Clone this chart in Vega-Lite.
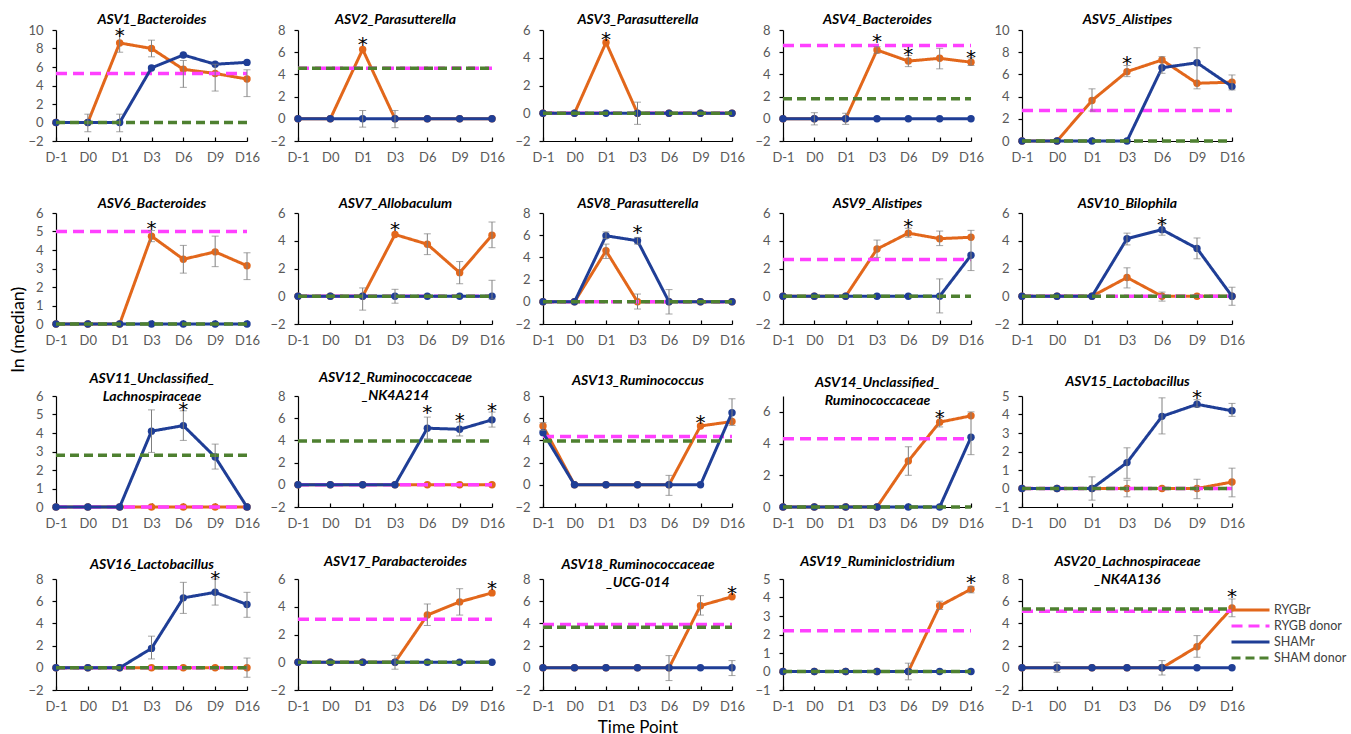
{"$schema":"https://vega.github.io/schema/vega-lite/v6.json","padding":{"left":10,"top":12,"right":0,"bottom":0},
"data":{"values":[
{"a":"ASV1","k":"RYGBr","t":"D-1","v":0},{"a":"ASV1","k":"RYGBr","t":"D0","v":0},{"a":"ASV1","k":"RYGBr","t":"D1","v":8.6},{"a":"ASV1","k":"RYGBr","t":"D3","v":8.0},{"a":"ASV1","k":"RYGBr","t":"D6","v":5.75},{"a":"ASV1","k":"RYGBr","t":"D9","v":5.3},{"a":"ASV1","k":"RYGBr","t":"D16","v":4.7},
{"a":"ASV1","k":"SHAMr","t":"D-1","v":0},{"a":"ASV1","k":"SHAMr","t":"D0","v":0},{"a":"ASV1","k":"SHAMr","t":"D1","v":0},{"a":"ASV1","k":"SHAMr","t":"D3","v":5.9},{"a":"ASV1","k":"SHAMr","t":"D6","v":7.3},{"a":"ASV1","k":"SHAMr","t":"D9","v":6.3},{"a":"ASV1","k":"SHAMr","t":"D16","v":6.5},
{"a":"ASV1","k":"RYGB donor","t":"D-1","v":5.3},{"a":"ASV1","k":"RYGB donor","t":"D16","v":5.3},{"a":"ASV1","k":"SHAM donor","t":"D-1","v":0},{"a":"ASV1","k":"SHAM donor","t":"D16","v":0},
{"a":"ASV1","k":"E","t":"D0","v":-1.0,"v2":0.9},{"a":"ASV1","k":"E","t":"D1","v":-1.0,"v2":0.9},{"a":"ASV1","k":"E","t":"D1","v":7.6,"v2":9.7},{"a":"ASV1","k":"E","t":"D3","v":7.1,"v2":8.9},{"a":"ASV1","k":"E","t":"D6","v":3.8,"v2":6.7},{"a":"ASV1","k":"E","t":"D9","v":3.4,"v2":6.3},{"a":"ASV1","k":"E","t":"D16","v":2.8,"v2":5.7},
{"a":"ASV1","k":"X","t":"D1","v":10.0},
{"a":"ASV2","k":"RYGBr","t":"D-1","v":0},{"a":"ASV2","k":"RYGBr","t":"D0","v":0},{"a":"ASV2","k":"RYGBr","t":"D1","v":6.25},{"a":"ASV2","k":"RYGBr","t":"D3","v":0},{"a":"ASV2","k":"RYGBr","t":"D6","v":0},{"a":"ASV2","k":"RYGBr","t":"D9","v":0},{"a":"ASV2","k":"RYGBr","t":"D16","v":0},
{"a":"ASV2","k":"SHAMr","t":"D-1","v":0},{"a":"ASV2","k":"SHAMr","t":"D0","v":0},{"a":"ASV2","k":"SHAMr","t":"D1","v":0},{"a":"ASV2","k":"SHAMr","t":"D3","v":0},{"a":"ASV2","k":"SHAMr","t":"D6","v":0},{"a":"ASV2","k":"SHAMr","t":"D9","v":0},{"a":"ASV2","k":"SHAMr","t":"D16","v":0},
{"a":"ASV2","k":"RYGB donor","t":"D-1","v":4.55},{"a":"ASV2","k":"RYGB donor","t":"D16","v":4.55},{"a":"ASV2","k":"SHAM donor","t":"D-1","v":4.55},{"a":"ASV2","k":"SHAM donor","t":"D16","v":4.55},
{"a":"ASV2","k":"E","t":"D1","v":-0.75,"v2":0.75},{"a":"ASV2","k":"E","t":"D3","v":-0.8,"v2":0.75},
{"a":"ASV2","k":"X","t":"D1","v":7.2},
{"a":"ASV3","k":"RYGBr","t":"D-1","v":0},{"a":"ASV3","k":"RYGBr","t":"D0","v":0},{"a":"ASV3","k":"RYGBr","t":"D1","v":5.1},{"a":"ASV3","k":"RYGBr","t":"D3","v":0},{"a":"ASV3","k":"RYGBr","t":"D6","v":0},{"a":"ASV3","k":"RYGBr","t":"D9","v":0},{"a":"ASV3","k":"RYGBr","t":"D16","v":0},
{"a":"ASV3","k":"SHAMr","t":"D-1","v":0},{"a":"ASV3","k":"SHAMr","t":"D0","v":0},{"a":"ASV3","k":"SHAMr","t":"D1","v":0},{"a":"ASV3","k":"SHAMr","t":"D3","v":0},{"a":"ASV3","k":"SHAMr","t":"D6","v":0},{"a":"ASV3","k":"SHAMr","t":"D9","v":0},{"a":"ASV3","k":"SHAMr","t":"D16","v":0},
{"a":"ASV3","k":"RYGB donor","t":"D-1","v":0},{"a":"ASV3","k":"RYGB donor","t":"D16","v":0},{"a":"ASV3","k":"SHAM donor","t":"D-1","v":0},{"a":"ASV3","k":"SHAM donor","t":"D16","v":0},
{"a":"ASV3","k":"E","t":"D3","v":-0.8,"v2":0.8},
{"a":"ASV3","k":"X","t":"D1","v":5.7},
{"a":"ASV4","k":"RYGBr","t":"D-1","v":0},{"a":"ASV4","k":"RYGBr","t":"D0","v":0},{"a":"ASV4","k":"RYGBr","t":"D1","v":0},{"a":"ASV4","k":"RYGBr","t":"D3","v":6.2},{"a":"ASV4","k":"RYGBr","t":"D6","v":5.2},{"a":"ASV4","k":"RYGBr","t":"D9","v":5.45},{"a":"ASV4","k":"RYGBr","t":"D16","v":5.1},
{"a":"ASV4","k":"SHAMr","t":"D-1","v":0},{"a":"ASV4","k":"SHAMr","t":"D0","v":0},{"a":"ASV4","k":"SHAMr","t":"D1","v":0},{"a":"ASV4","k":"SHAMr","t":"D3","v":0},{"a":"ASV4","k":"SHAMr","t":"D6","v":0},{"a":"ASV4","k":"SHAMr","t":"D9","v":0},{"a":"ASV4","k":"SHAMr","t":"D16","v":0},
{"a":"ASV4","k":"RYGB donor","t":"D-1","v":6.6},{"a":"ASV4","k":"RYGB donor","t":"D16","v":6.6},{"a":"ASV4","k":"SHAM donor","t":"D-1","v":1.8},{"a":"ASV4","k":"SHAM donor","t":"D16","v":1.8},
{"a":"ASV4","k":"E","t":"D0","v":-0.55,"v2":0.55},{"a":"ASV4","k":"E","t":"D1","v":-0.5,"v2":0.5},{"a":"ASV4","k":"E","t":"D3","v":5.9,"v2":6.5},{"a":"ASV4","k":"E","t":"D6","v":4.7,"v2":5.7},{"a":"ASV4","k":"E","t":"D9","v":4.5,"v2":6.35},{"a":"ASV4","k":"E","t":"D16","v":4.8,"v2":5.5},
{"a":"ASV4","k":"X","t":"D3","v":7.5},{"a":"ASV4","k":"X","t":"D6","v":6.3},{"a":"ASV4","k":"X","t":"D16","v":6.0},
{"a":"ASV5","k":"RYGBr","t":"D-1","v":0},{"a":"ASV5","k":"RYGBr","t":"D0","v":0},{"a":"ASV5","k":"RYGBr","t":"D1","v":3.65},{"a":"ASV5","k":"RYGBr","t":"D3","v":6.25},{"a":"ASV5","k":"RYGBr","t":"D6","v":7.3},{"a":"ASV5","k":"RYGBr","t":"D9","v":5.2},{"a":"ASV5","k":"RYGBr","t":"D16","v":5.3},
{"a":"ASV5","k":"SHAMr","t":"D-1","v":0},{"a":"ASV5","k":"SHAMr","t":"D0","v":0},{"a":"ASV5","k":"SHAMr","t":"D1","v":0},{"a":"ASV5","k":"SHAMr","t":"D3","v":0},{"a":"ASV5","k":"SHAMr","t":"D6","v":6.6},{"a":"ASV5","k":"SHAMr","t":"D9","v":7.05},{"a":"ASV5","k":"SHAMr","t":"D16","v":4.9},
{"a":"ASV5","k":"RYGB donor","t":"D-1","v":2.75},{"a":"ASV5","k":"RYGB donor","t":"D16","v":2.75},{"a":"ASV5","k":"SHAM donor","t":"D-1","v":0},{"a":"ASV5","k":"SHAM donor","t":"D16","v":0},
{"a":"ASV5","k":"E","t":"D1","v":2.7,"v2":4.7},{"a":"ASV5","k":"E","t":"D3","v":5.8,"v2":6.8},{"a":"ASV5","k":"E","t":"D6","v":6.1,"v2":7.6},{"a":"ASV5","k":"E","t":"D9","v":4.7,"v2":8.4},{"a":"ASV5","k":"E","t":"D16","v":4.6,"v2":5.95},
{"a":"ASV5","k":"X","t":"D3","v":7.5},
{"a":"ASV6","k":"RYGBr","t":"D-1","v":0},{"a":"ASV6","k":"RYGBr","t":"D0","v":0},{"a":"ASV6","k":"RYGBr","t":"D1","v":0},{"a":"ASV6","k":"RYGBr","t":"D3","v":4.75},{"a":"ASV6","k":"RYGBr","t":"D6","v":3.5},{"a":"ASV6","k":"RYGBr","t":"D9","v":3.9},{"a":"ASV6","k":"RYGBr","t":"D16","v":3.15},
{"a":"ASV6","k":"SHAMr","t":"D-1","v":0},{"a":"ASV6","k":"SHAMr","t":"D0","v":0},{"a":"ASV6","k":"SHAMr","t":"D1","v":0},{"a":"ASV6","k":"SHAMr","t":"D3","v":0},{"a":"ASV6","k":"SHAMr","t":"D6","v":0},{"a":"ASV6","k":"SHAMr","t":"D9","v":0},{"a":"ASV6","k":"SHAMr","t":"D16","v":0},
{"a":"ASV6","k":"RYGB donor","t":"D-1","v":5.0},{"a":"ASV6","k":"RYGB donor","t":"D16","v":5.0},{"a":"ASV6","k":"SHAM donor","t":"D-1","v":0},{"a":"ASV6","k":"SHAM donor","t":"D16","v":0},
{"a":"ASV6","k":"E","t":"D3","v":4.45,"v2":5.05},{"a":"ASV6","k":"E","t":"D6","v":2.75,"v2":4.25},{"a":"ASV6","k":"E","t":"D9","v":3.1,"v2":4.75},{"a":"ASV6","k":"E","t":"D16","v":2.4,"v2":3.85},
{"a":"ASV6","k":"X","t":"D3","v":5.45},
{"a":"ASV7","k":"RYGBr","t":"D-1","v":0},{"a":"ASV7","k":"RYGBr","t":"D0","v":0},{"a":"ASV7","k":"RYGBr","t":"D1","v":0},{"a":"ASV7","k":"RYGBr","t":"D3","v":4.45},{"a":"ASV7","k":"RYGBr","t":"D6","v":3.75},{"a":"ASV7","k":"RYGBr","t":"D9","v":1.7},{"a":"ASV7","k":"RYGBr","t":"D16","v":4.4},
{"a":"ASV7","k":"SHAMr","t":"D-1","v":0},{"a":"ASV7","k":"SHAMr","t":"D0","v":0},{"a":"ASV7","k":"SHAMr","t":"D1","v":0},{"a":"ASV7","k":"SHAMr","t":"D3","v":0},{"a":"ASV7","k":"SHAMr","t":"D6","v":0},{"a":"ASV7","k":"SHAMr","t":"D9","v":0},{"a":"ASV7","k":"SHAMr","t":"D16","v":0},
{"a":"ASV7","k":"RYGB donor","t":"D-1","v":0},{"a":"ASV7","k":"RYGB donor","t":"D16","v":0},{"a":"ASV7","k":"SHAM donor","t":"D-1","v":0},{"a":"ASV7","k":"SHAM donor","t":"D16","v":0},
{"a":"ASV7","k":"E","t":"D1","v":-1.0,"v2":0.6},{"a":"ASV7","k":"E","t":"D3","v":-0.5,"v2":0.5},{"a":"ASV7","k":"E","t":"D6","v":3.0,"v2":4.5},{"a":"ASV7","k":"E","t":"D9","v":0.9,"v2":2.5},{"a":"ASV7","k":"E","t":"D16","v":3.5,"v2":5.35},{"a":"ASV7","k":"E","t":"D16","v":-0.2,"v2":1.15},
{"a":"ASV7","k":"X","t":"D3","v":5.2},
{"a":"ASV8","k":"RYGBr","t":"D-1","v":0},{"a":"ASV8","k":"RYGBr","t":"D0","v":0},{"a":"ASV8","k":"RYGBr","t":"D1","v":4.6},{"a":"ASV8","k":"RYGBr","t":"D3","v":0},{"a":"ASV8","k":"RYGBr","t":"D6","v":0},{"a":"ASV8","k":"RYGBr","t":"D9","v":0},{"a":"ASV8","k":"RYGBr","t":"D16","v":0},
{"a":"ASV8","k":"SHAMr","t":"D-1","v":0},{"a":"ASV8","k":"SHAMr","t":"D0","v":0},{"a":"ASV8","k":"SHAMr","t":"D1","v":5.95},{"a":"ASV8","k":"SHAMr","t":"D3","v":5.5},{"a":"ASV8","k":"SHAMr","t":"D6","v":0},{"a":"ASV8","k":"SHAMr","t":"D9","v":0},{"a":"ASV8","k":"SHAMr","t":"D16","v":0},
{"a":"ASV8","k":"RYGB donor","t":"D-1","v":0},{"a":"ASV8","k":"RYGB donor","t":"D16","v":0},{"a":"ASV8","k":"SHAM donor","t":"D-1","v":0},{"a":"ASV8","k":"SHAM donor","t":"D16","v":0},
{"a":"ASV8","k":"E","t":"D1","v":5.7,"v2":6.3},{"a":"ASV8","k":"E","t":"D1","v":3.9,"v2":5.2},{"a":"ASV8","k":"E","t":"D3","v":5.2,"v2":5.8},{"a":"ASV8","k":"E","t":"D3","v":-0.65,"v2":0.7},{"a":"ASV8","k":"E","t":"D6","v":-1.1,"v2":1.1},
{"a":"ASV8","k":"X","t":"D3","v":6.75},
{"a":"ASV9","k":"RYGBr","t":"D-1","v":0},{"a":"ASV9","k":"RYGBr","t":"D0","v":0},{"a":"ASV9","k":"RYGBr","t":"D1","v":0},{"a":"ASV9","k":"RYGBr","t":"D3","v":3.4},{"a":"ASV9","k":"RYGBr","t":"D6","v":4.55},{"a":"ASV9","k":"RYGBr","t":"D9","v":4.15},{"a":"ASV9","k":"RYGBr","t":"D16","v":4.25},
{"a":"ASV9","k":"SHAMr","t":"D-1","v":0},{"a":"ASV9","k":"SHAMr","t":"D0","v":0},{"a":"ASV9","k":"SHAMr","t":"D1","v":0},{"a":"ASV9","k":"SHAMr","t":"D3","v":0},{"a":"ASV9","k":"SHAMr","t":"D6","v":0},{"a":"ASV9","k":"SHAMr","t":"D9","v":0},{"a":"ASV9","k":"SHAMr","t":"D16","v":2.95},
{"a":"ASV9","k":"RYGB donor","t":"D-1","v":2.65},{"a":"ASV9","k":"RYGB donor","t":"D16","v":2.65},{"a":"ASV9","k":"SHAM donor","t":"D-1","v":0},{"a":"ASV9","k":"SHAM donor","t":"D16","v":0},
{"a":"ASV9","k":"E","t":"D3","v":2.8,"v2":4.05},{"a":"ASV9","k":"E","t":"D6","v":4.25,"v2":4.9},{"a":"ASV9","k":"E","t":"D9","v":3.65,"v2":4.7},{"a":"ASV9","k":"E","t":"D9","v":-1.2,"v2":1.25},{"a":"ASV9","k":"E","t":"D16","v":1.85,"v2":4.75},
{"a":"ASV9","k":"X","t":"D6","v":5.4},
{"a":"ASV10","k":"RYGBr","t":"D-1","v":0},{"a":"ASV10","k":"RYGBr","t":"D0","v":0},{"a":"ASV10","k":"RYGBr","t":"D1","v":0},{"a":"ASV10","k":"RYGBr","t":"D3","v":1.35},{"a":"ASV10","k":"RYGBr","t":"D6","v":0},{"a":"ASV10","k":"RYGBr","t":"D9","v":0},{"a":"ASV10","k":"RYGBr","t":"D16","v":0},
{"a":"ASV10","k":"SHAMr","t":"D-1","v":0},{"a":"ASV10","k":"SHAMr","t":"D0","v":0},{"a":"ASV10","k":"SHAMr","t":"D1","v":0},{"a":"ASV10","k":"SHAMr","t":"D3","v":4.15},{"a":"ASV10","k":"SHAMr","t":"D6","v":4.8},{"a":"ASV10","k":"SHAMr","t":"D9","v":3.45},{"a":"ASV10","k":"SHAMr","t":"D16","v":0},
{"a":"ASV10","k":"RYGB donor","t":"D-1","v":0},{"a":"ASV10","k":"RYGB donor","t":"D16","v":0},{"a":"ASV10","k":"SHAM donor","t":"D-1","v":0},{"a":"ASV10","k":"SHAM donor","t":"D16","v":0},
{"a":"ASV10","k":"E","t":"D3","v":3.7,"v2":4.55},{"a":"ASV10","k":"E","t":"D3","v":0.6,"v2":2.05},{"a":"ASV10","k":"E","t":"D6","v":4.4,"v2":5.2},{"a":"ASV10","k":"E","t":"D6","v":-0.35,"v2":0.3},{"a":"ASV10","k":"E","t":"D9","v":2.7,"v2":4.2},{"a":"ASV10","k":"E","t":"D16","v":-0.65,"v2":0.65},
{"a":"ASV10","k":"X","t":"D6","v":5.6},
{"a":"ASV11","k":"RYGBr","t":"D-1","v":0},{"a":"ASV11","k":"RYGBr","t":"D0","v":0},{"a":"ASV11","k":"RYGBr","t":"D1","v":0},{"a":"ASV11","k":"RYGBr","t":"D3","v":0},{"a":"ASV11","k":"RYGBr","t":"D6","v":0},{"a":"ASV11","k":"RYGBr","t":"D9","v":0},{"a":"ASV11","k":"RYGBr","t":"D16","v":0},
{"a":"ASV11","k":"SHAMr","t":"D-1","v":0},{"a":"ASV11","k":"SHAMr","t":"D0","v":0},{"a":"ASV11","k":"SHAMr","t":"D1","v":0},{"a":"ASV11","k":"SHAMr","t":"D3","v":4.1},{"a":"ASV11","k":"SHAMr","t":"D6","v":4.4},{"a":"ASV11","k":"SHAMr","t":"D9","v":2.7},{"a":"ASV11","k":"SHAMr","t":"D16","v":0},
{"a":"ASV11","k":"RYGB donor","t":"D-1","v":0},{"a":"ASV11","k":"RYGB donor","t":"D16","v":0},{"a":"ASV11","k":"SHAM donor","t":"D-1","v":2.8},{"a":"ASV11","k":"SHAM donor","t":"D16","v":2.8},
{"a":"ASV11","k":"E","t":"D3","v":2.95,"v2":5.25},{"a":"ASV11","k":"E","t":"D6","v":3.6,"v2":5.2},{"a":"ASV11","k":"E","t":"D9","v":2.05,"v2":3.4},
{"a":"ASV11","k":"X","t":"D6","v":5.55},
{"a":"ASV12","k":"RYGBr","t":"D-1","v":0},{"a":"ASV12","k":"RYGBr","t":"D0","v":0},{"a":"ASV12","k":"RYGBr","t":"D1","v":0},{"a":"ASV12","k":"RYGBr","t":"D3","v":0},{"a":"ASV12","k":"RYGBr","t":"D6","v":0},{"a":"ASV12","k":"RYGBr","t":"D9","v":0},{"a":"ASV12","k":"RYGBr","t":"D16","v":0},
{"a":"ASV12","k":"SHAMr","t":"D-1","v":0},{"a":"ASV12","k":"SHAMr","t":"D0","v":0},{"a":"ASV12","k":"SHAMr","t":"D1","v":0},{"a":"ASV12","k":"SHAMr","t":"D3","v":0},{"a":"ASV12","k":"SHAMr","t":"D6","v":5.1},{"a":"ASV12","k":"SHAMr","t":"D9","v":5.0},{"a":"ASV12","k":"SHAMr","t":"D16","v":5.85},
{"a":"ASV12","k":"RYGB donor","t":"D-1","v":0},{"a":"ASV12","k":"RYGB donor","t":"D16","v":0},{"a":"ASV12","k":"SHAM donor","t":"D-1","v":3.95},{"a":"ASV12","k":"SHAM donor","t":"D16","v":3.95},
{"a":"ASV12","k":"E","t":"D6","v":4.15,"v2":6.1},{"a":"ASV12","k":"E","t":"D9","v":4.4,"v2":5.65},{"a":"ASV12","k":"E","t":"D16","v":5.2,"v2":6.55},
{"a":"ASV12","k":"X","t":"D6","v":7.05},{"a":"ASV12","k":"X","t":"D9","v":6.25},{"a":"ASV12","k":"X","t":"D16","v":7.15},
{"a":"ASV13","k":"RYGBr","t":"D-1","v":5.3},{"a":"ASV13","k":"RYGBr","t":"D0","v":0},{"a":"ASV13","k":"RYGBr","t":"D1","v":0},{"a":"ASV13","k":"RYGBr","t":"D3","v":0},{"a":"ASV13","k":"RYGBr","t":"D6","v":0},{"a":"ASV13","k":"RYGBr","t":"D9","v":5.3},{"a":"ASV13","k":"RYGBr","t":"D16","v":5.7},
{"a":"ASV13","k":"SHAMr","t":"D-1","v":4.7},{"a":"ASV13","k":"SHAMr","t":"D0","v":0},{"a":"ASV13","k":"SHAMr","t":"D1","v":0},{"a":"ASV13","k":"SHAMr","t":"D3","v":0},{"a":"ASV13","k":"SHAMr","t":"D6","v":0},{"a":"ASV13","k":"SHAMr","t":"D9","v":0},{"a":"ASV13","k":"SHAMr","t":"D16","v":6.5},
{"a":"ASV13","k":"RYGB donor","t":"D-1","v":4.35},{"a":"ASV13","k":"RYGB donor","t":"D16","v":4.35},{"a":"ASV13","k":"SHAM donor","t":"D-1","v":3.95},{"a":"ASV13","k":"SHAM donor","t":"D16","v":3.95},
{"a":"ASV13","k":"E","t":"D-1","v":4.9,"v2":5.6},{"a":"ASV13","k":"E","t":"D6","v":-0.95,"v2":0.85},{"a":"ASV13","k":"E","t":"D16","v":5.35,"v2":7.75},
{"a":"ASV13","k":"X","t":"D9","v":6.15},
{"a":"ASV14","k":"RYGBr","t":"D-1","v":0},{"a":"ASV14","k":"RYGBr","t":"D0","v":0},{"a":"ASV14","k":"RYGBr","t":"D1","v":0},{"a":"ASV14","k":"RYGBr","t":"D3","v":0},{"a":"ASV14","k":"RYGBr","t":"D6","v":2.9},{"a":"ASV14","k":"RYGBr","t":"D9","v":5.35},{"a":"ASV14","k":"RYGBr","t":"D16","v":5.75},
{"a":"ASV14","k":"SHAMr","t":"D-1","v":0},{"a":"ASV14","k":"SHAMr","t":"D0","v":0},{"a":"ASV14","k":"SHAMr","t":"D1","v":0},{"a":"ASV14","k":"SHAMr","t":"D3","v":0},{"a":"ASV14","k":"SHAMr","t":"D6","v":0},{"a":"ASV14","k":"SHAMr","t":"D9","v":0},{"a":"ASV14","k":"SHAMr","t":"D16","v":4.4},
{"a":"ASV14","k":"RYGB donor","t":"D-1","v":4.3},{"a":"ASV14","k":"RYGB donor","t":"D16","v":4.3},{"a":"ASV14","k":"SHAM donor","t":"D-1","v":0},{"a":"ASV14","k":"SHAM donor","t":"D16","v":0},
{"a":"ASV14","k":"E","t":"D6","v":2.0,"v2":3.8},{"a":"ASV14","k":"E","t":"D9","v":5.05,"v2":5.65},{"a":"ASV14","k":"E","t":"D16","v":3.3,"v2":6.0},
{"a":"ASV14","k":"X","t":"D9","v":6.0},
{"a":"ASV15","k":"RYGBr","t":"D-1","v":0},{"a":"ASV15","k":"RYGBr","t":"D0","v":0},{"a":"ASV15","k":"RYGBr","t":"D1","v":0},{"a":"ASV15","k":"RYGBr","t":"D3","v":0},{"a":"ASV15","k":"RYGBr","t":"D6","v":0},{"a":"ASV15","k":"RYGBr","t":"D9","v":0},{"a":"ASV15","k":"RYGBr","t":"D16","v":0.35},
{"a":"ASV15","k":"SHAMr","t":"D-1","v":0},{"a":"ASV15","k":"SHAMr","t":"D0","v":0},{"a":"ASV15","k":"SHAMr","t":"D1","v":0},{"a":"ASV15","k":"SHAMr","t":"D3","v":1.4},{"a":"ASV15","k":"SHAMr","t":"D6","v":3.9},{"a":"ASV15","k":"SHAMr","t":"D9","v":4.55},{"a":"ASV15","k":"SHAMr","t":"D16","v":4.2},
{"a":"ASV15","k":"RYGB donor","t":"D-1","v":0},{"a":"ASV15","k":"RYGB donor","t":"D16","v":0},{"a":"ASV15","k":"SHAM donor","t":"D-1","v":0},{"a":"ASV15","k":"SHAM donor","t":"D16","v":0},
{"a":"ASV15","k":"E","t":"D1","v":-0.63,"v2":0.63},{"a":"ASV15","k":"E","t":"D3","v":0.55,"v2":2.2},{"a":"ASV15","k":"E","t":"D3","v":-0.45,"v2":0.45},{"a":"ASV15","k":"E","t":"D6","v":2.95,"v2":4.9},{"a":"ASV15","k":"E","t":"D9","v":4.4,"v2":4.8},{"a":"ASV15","k":"E","t":"D9","v":-0.55,"v2":0.5},{"a":"ASV15","k":"E","t":"D16","v":3.9,"v2":4.6},{"a":"ASV15","k":"E","t":"D16","v":-0.45,"v2":1.1},
{"a":"ASV15","k":"X","t":"D9","v":5.2},
{"a":"ASV16","k":"RYGBr","t":"D-1","v":0},{"a":"ASV16","k":"RYGBr","t":"D0","v":0},{"a":"ASV16","k":"RYGBr","t":"D1","v":0},{"a":"ASV16","k":"RYGBr","t":"D3","v":0},{"a":"ASV16","k":"RYGBr","t":"D6","v":0},{"a":"ASV16","k":"RYGBr","t":"D9","v":0},{"a":"ASV16","k":"RYGBr","t":"D16","v":0},
{"a":"ASV16","k":"SHAMr","t":"D-1","v":0},{"a":"ASV16","k":"SHAMr","t":"D0","v":0},{"a":"ASV16","k":"SHAMr","t":"D1","v":0},{"a":"ASV16","k":"SHAMr","t":"D3","v":1.75},{"a":"ASV16","k":"SHAMr","t":"D6","v":6.3},{"a":"ASV16","k":"SHAMr","t":"D9","v":6.8},{"a":"ASV16","k":"SHAMr","t":"D16","v":5.7},
{"a":"ASV16","k":"RYGB donor","t":"D-1","v":0},{"a":"ASV16","k":"RYGB donor","t":"D16","v":0},{"a":"ASV16","k":"SHAM donor","t":"D-1","v":0},{"a":"ASV16","k":"SHAM donor","t":"D16","v":0},
{"a":"ASV16","k":"E","t":"D3","v":0.8,"v2":2.85},{"a":"ASV16","k":"E","t":"D6","v":4.9,"v2":7.7},{"a":"ASV16","k":"E","t":"D9","v":5.65,"v2":8.0},{"a":"ASV16","k":"E","t":"D16","v":4.55,"v2":6.8},{"a":"ASV16","k":"E","t":"D16","v":-0.85,"v2":0.88},
{"a":"ASV16","k":"X","t":"D9","v":8.55},
{"a":"ASV17","k":"RYGBr","t":"D-1","v":0},{"a":"ASV17","k":"RYGBr","t":"D0","v":0},{"a":"ASV17","k":"RYGBr","t":"D1","v":0},{"a":"ASV17","k":"RYGBr","t":"D3","v":0},{"a":"ASV17","k":"RYGBr","t":"D6","v":3.4},{"a":"ASV17","k":"RYGBr","t":"D9","v":4.35},{"a":"ASV17","k":"RYGBr","t":"D16","v":5.0},
{"a":"ASV17","k":"SHAMr","t":"D-1","v":0},{"a":"ASV17","k":"SHAMr","t":"D0","v":0},{"a":"ASV17","k":"SHAMr","t":"D1","v":0},{"a":"ASV17","k":"SHAMr","t":"D3","v":0},{"a":"ASV17","k":"SHAMr","t":"D6","v":0},{"a":"ASV17","k":"SHAMr","t":"D9","v":0},{"a":"ASV17","k":"SHAMr","t":"D16","v":0},
{"a":"ASV17","k":"RYGB donor","t":"D-1","v":3.1},{"a":"ASV17","k":"RYGB donor","t":"D16","v":3.1},{"a":"ASV17","k":"SHAM donor","t":"D-1","v":0},{"a":"ASV17","k":"SHAM donor","t":"D16","v":0},
{"a":"ASV17","k":"E","t":"D3","v":-0.5,"v2":0.5},{"a":"ASV17","k":"E","t":"D6","v":2.65,"v2":4.2},{"a":"ASV17","k":"E","t":"D9","v":3.4,"v2":5.3},
{"a":"ASV17","k":"X","t":"D16","v":5.7},
{"a":"ASV18","k":"RYGBr","t":"D-1","v":0},{"a":"ASV18","k":"RYGBr","t":"D0","v":0},{"a":"ASV18","k":"RYGBr","t":"D1","v":0},{"a":"ASV18","k":"RYGBr","t":"D3","v":0},{"a":"ASV18","k":"RYGBr","t":"D6","v":0},{"a":"ASV18","k":"RYGBr","t":"D9","v":5.6},{"a":"ASV18","k":"RYGBr","t":"D16","v":6.4},
{"a":"ASV18","k":"SHAMr","t":"D-1","v":0},{"a":"ASV18","k":"SHAMr","t":"D0","v":0},{"a":"ASV18","k":"SHAMr","t":"D1","v":0},{"a":"ASV18","k":"SHAMr","t":"D3","v":0},{"a":"ASV18","k":"SHAMr","t":"D6","v":0},{"a":"ASV18","k":"SHAMr","t":"D9","v":0},{"a":"ASV18","k":"SHAMr","t":"D16","v":0},
{"a":"ASV18","k":"RYGB donor","t":"D-1","v":3.9},{"a":"ASV18","k":"RYGB donor","t":"D16","v":3.9},{"a":"ASV18","k":"SHAM donor","t":"D-1","v":3.65},{"a":"ASV18","k":"SHAM donor","t":"D16","v":3.65},
{"a":"ASV18","k":"E","t":"D6","v":-1.15,"v2":1.1},{"a":"ASV18","k":"E","t":"D9","v":4.75,"v2":6.5},{"a":"ASV18","k":"E","t":"D16","v":-0.7,"v2":0.65},
{"a":"ASV18","k":"X","t":"D16","v":7.2},
{"a":"ASV19","k":"RYGBr","t":"D-1","v":0},{"a":"ASV19","k":"RYGBr","t":"D0","v":0},{"a":"ASV19","k":"RYGBr","t":"D1","v":0},{"a":"ASV19","k":"RYGBr","t":"D3","v":0},{"a":"ASV19","k":"RYGBr","t":"D6","v":0},{"a":"ASV19","k":"RYGBr","t":"D9","v":3.55},{"a":"ASV19","k":"RYGBr","t":"D16","v":4.45},
{"a":"ASV19","k":"SHAMr","t":"D-1","v":0},{"a":"ASV19","k":"SHAMr","t":"D0","v":0},{"a":"ASV19","k":"SHAMr","t":"D1","v":0},{"a":"ASV19","k":"SHAMr","t":"D3","v":0},{"a":"ASV19","k":"SHAMr","t":"D6","v":0},{"a":"ASV19","k":"SHAMr","t":"D9","v":0},{"a":"ASV19","k":"SHAMr","t":"D16","v":0},
{"a":"ASV19","k":"RYGB donor","t":"D-1","v":2.2},{"a":"ASV19","k":"RYGB donor","t":"D16","v":2.2},{"a":"ASV19","k":"SHAM donor","t":"D-1","v":0},{"a":"ASV19","k":"SHAM donor","t":"D16","v":0},
{"a":"ASV19","k":"E","t":"D6","v":-0.45,"v2":0.45},{"a":"ASV19","k":"E","t":"D9","v":3.35,"v2":3.8},{"a":"ASV19","k":"E","t":"D16","v":4.25,"v2":4.6},
{"a":"ASV19","k":"X","t":"D16","v":5.1},
{"a":"ASV20","k":"RYGBr","t":"D-1","v":0},{"a":"ASV20","k":"RYGBr","t":"D0","v":0},{"a":"ASV20","k":"RYGBr","t":"D1","v":0},{"a":"ASV20","k":"RYGBr","t":"D3","v":0},{"a":"ASV20","k":"RYGBr","t":"D6","v":0},{"a":"ASV20","k":"RYGBr","t":"D9","v":1.9},{"a":"ASV20","k":"RYGBr","t":"D16","v":5.4},
{"a":"ASV20","k":"SHAMr","t":"D-1","v":0},{"a":"ASV20","k":"SHAMr","t":"D0","v":0},{"a":"ASV20","k":"SHAMr","t":"D1","v":0},{"a":"ASV20","k":"SHAMr","t":"D3","v":0},{"a":"ASV20","k":"SHAMr","t":"D6","v":0},{"a":"ASV20","k":"SHAMr","t":"D9","v":0},{"a":"ASV20","k":"SHAMr","t":"D16","v":0},
{"a":"ASV20","k":"RYGB donor","t":"D-1","v":5.1},{"a":"ASV20","k":"RYGB donor","t":"D16","v":5.1},{"a":"ASV20","k":"SHAM donor","t":"D-1","v":5.3},{"a":"ASV20","k":"SHAM donor","t":"D16","v":5.3},
{"a":"ASV20","k":"E","t":"D0","v":-0.4,"v2":0.5},{"a":"ASV20","k":"E","t":"D6","v":-0.65,"v2":0.65},{"a":"ASV20","k":"E","t":"D9","v":0.95,"v2":2.9},{"a":"ASV20","k":"E","t":"D16","v":4.6,"v2":6.2},
{"a":"ASV20","k":"X","t":"D16","v":6.9}
]},
"columns":5,"spacing":{"row":72,"column":51},"bounds":"flush","align":"each",
"concat":[
{"width":191,"height":111,"transform":[{"filter":"datum.a=='ASV1'"}],"encoding":{"x":{"field":"t","type":"ordinal","scale":{"type":"point","domain":["D-1","D0","D1","D3","D6","D9","D16"],"padding":0},"axis":{"title":null}},"y":{"field":"v","type":"quantitative","scale":{"domain":[-2,10],"nice":false,"zero":false},"axis":{"values":[-2,0,2,4,6,8,10],"title":"ASV1_Bacteroides","titleX":95.5,"titleY":-18}},"color":{"field":"k","type":"nominal","scale":{"domain":["RYGBr","RYGB donor","SHAMr","SHAM donor"],"range":["#E2671B","#FF40FF","#1F3E96","#4E8030"]},"legend":{"title":null,"orient":"none","legendX":1174,"legendY":572,"symbolType":"stroke","clipHeight":16}},"strokeDash":{"field":"k","type":"nominal","scale":{"domain":["RYGBr","RYGB donor","SHAMr","SHAM donor"],"range":[[1,0],[11,6],[1,0],[9,5]]},"legend":{"title":null,"orient":"none","legendX":1174,"legendY":572,"symbolType":"stroke","clipHeight":16}}},"layer":[{"transform":[{"filter":"datum.k=='RYGBr'"}],"mark":{"type":"line","strokeWidth":3,"point":{"filled":true,"size":55}}},{"transform":[{"filter":"datum.k=='RYGB donor'"}],"mark":{"type":"line","strokeWidth":3.5}},{"transform":[{"filter":"datum.k=='SHAMr'"}],"mark":{"type":"line","strokeWidth":3,"point":{"filled":true,"size":55}}},{"transform":[{"filter":"datum.k=='SHAM donor'"}],"mark":{"type":"line","strokeWidth":3.5}},{"transform":[{"filter":"datum.k=='E'"}],"mark":{"type":"errorbar","thickness":1,"ticks":{"size":7,"thickness":1}},"encoding":{"y2":{"field":"v2"},"color":{"value":"#7F7F7F"}}},{"transform":[{"filter":"datum.k=='X'"}],"mark":{"type":"text","text":"*","font":"DejaVu Sans","fontSize":20,"baseline":"alphabetic","dy":12},"encoding":{"color":{"value":"#000000"},"strokeDash":{"value":[1,0]}}}]},
{"width":194,"height":111,"transform":[{"filter":"datum.a=='ASV2'"}],"encoding":{"x":{"field":"t","type":"ordinal","scale":{"type":"point","domain":["D-1","D0","D1","D3","D6","D9","D16"],"padding":0},"axis":{"title":null}},"y":{"field":"v","type":"quantitative","scale":{"domain":[-2,8],"nice":false,"zero":false},"axis":{"values":[-2,0,2,4,6,8],"title":"ASV2_Parasutterella","titleX":97,"titleY":-18}},"color":{"field":"k","type":"nominal","scale":{"domain":["RYGBr","RYGB donor","SHAMr","SHAM donor"],"range":["#E2671B","#FF40FF","#1F3E96","#4E8030"]},"legend":{"title":null,"orient":"none","legendX":1174,"legendY":572,"symbolType":"stroke","clipHeight":16}},"strokeDash":{"field":"k","type":"nominal","scale":{"domain":["RYGBr","RYGB donor","SHAMr","SHAM donor"],"range":[[1,0],[11,6],[1,0],[9,5]]},"legend":{"title":null,"orient":"none","legendX":1174,"legendY":572,"symbolType":"stroke","clipHeight":16}}},"layer":[{"transform":[{"filter":"datum.k=='RYGBr'"}],"mark":{"type":"line","strokeWidth":3,"point":{"filled":true,"size":55}}},{"transform":[{"filter":"datum.k=='RYGB donor'"}],"mark":{"type":"line","strokeWidth":3.5}},{"transform":[{"filter":"datum.k=='SHAMr'"}],"mark":{"type":"line","strokeWidth":3,"point":{"filled":true,"size":55}}},{"transform":[{"filter":"datum.k=='SHAM donor'"}],"mark":{"type":"line","strokeWidth":3.5}},{"transform":[{"filter":"datum.k=='E'"}],"mark":{"type":"errorbar","thickness":1,"ticks":{"size":7,"thickness":1}},"encoding":{"y2":{"field":"v2"},"color":{"value":"#7F7F7F"}}},{"transform":[{"filter":"datum.k=='X'"}],"mark":{"type":"text","text":"*","font":"DejaVu Sans","fontSize":20,"baseline":"alphabetic","dy":12},"encoding":{"color":{"value":"#000000"},"strokeDash":{"value":[1,0]}}}]},
{"width":189,"height":111,"transform":[{"filter":"datum.a=='ASV3'"}],"encoding":{"x":{"field":"t","type":"ordinal","scale":{"type":"point","domain":["D-1","D0","D1","D3","D6","D9","D16"],"padding":0},"axis":{"title":null}},"y":{"field":"v","type":"quantitative","scale":{"domain":[-2,6],"nice":false,"zero":false},"axis":{"values":[-2,0,2,4,6],"title":"ASV3_Parasutterella","titleX":94.5,"titleY":-18}},"color":{"field":"k","type":"nominal","scale":{"domain":["RYGBr","RYGB donor","SHAMr","SHAM donor"],"range":["#E2671B","#FF40FF","#1F3E96","#4E8030"]},"legend":{"title":null,"orient":"none","legendX":1174,"legendY":572,"symbolType":"stroke","clipHeight":16}},"strokeDash":{"field":"k","type":"nominal","scale":{"domain":["RYGBr","RYGB donor","SHAMr","SHAM donor"],"range":[[1,0],[11,6],[1,0],[9,5]]},"legend":{"title":null,"orient":"none","legendX":1174,"legendY":572,"symbolType":"stroke","clipHeight":16}}},"layer":[{"transform":[{"filter":"datum.k=='RYGBr'"}],"mark":{"type":"line","strokeWidth":3,"point":{"filled":true,"size":55}}},{"transform":[{"filter":"datum.k=='RYGB donor'"}],"mark":{"type":"line","strokeWidth":3.5}},{"transform":[{"filter":"datum.k=='SHAMr'"}],"mark":{"type":"line","strokeWidth":3,"point":{"filled":true,"size":55}}},{"transform":[{"filter":"datum.k=='SHAM donor'"}],"mark":{"type":"line","strokeWidth":3.5}},{"transform":[{"filter":"datum.k=='E'"}],"mark":{"type":"errorbar","thickness":1,"ticks":{"size":7,"thickness":1}},"encoding":{"y2":{"field":"v2"},"color":{"value":"#7F7F7F"}}},{"transform":[{"filter":"datum.k=='X'"}],"mark":{"type":"text","text":"*","font":"DejaVu Sans","fontSize":20,"baseline":"alphabetic","dy":12},"encoding":{"color":{"value":"#000000"},"strokeDash":{"value":[1,0]}}}]},
{"width":188,"height":111,"transform":[{"filter":"datum.a=='ASV4'"}],"encoding":{"x":{"field":"t","type":"ordinal","scale":{"type":"point","domain":["D-1","D0","D1","D3","D6","D9","D16"],"padding":0},"axis":{"title":null}},"y":{"field":"v","type":"quantitative","scale":{"domain":[-2,8],"nice":false,"zero":false},"axis":{"values":[-2,0,2,4,6,8],"title":"ASV4_Bacteroides","titleX":94,"titleY":-18}},"color":{"field":"k","type":"nominal","scale":{"domain":["RYGBr","RYGB donor","SHAMr","SHAM donor"],"range":["#E2671B","#FF40FF","#1F3E96","#4E8030"]},"legend":{"title":null,"orient":"none","legendX":1174,"legendY":572,"symbolType":"stroke","clipHeight":16}},"strokeDash":{"field":"k","type":"nominal","scale":{"domain":["RYGBr","RYGB donor","SHAMr","SHAM donor"],"range":[[1,0],[11,6],[1,0],[9,5]]},"legend":{"title":null,"orient":"none","legendX":1174,"legendY":572,"symbolType":"stroke","clipHeight":16}}},"layer":[{"transform":[{"filter":"datum.k=='RYGBr'"}],"mark":{"type":"line","strokeWidth":3,"point":{"filled":true,"size":55}}},{"transform":[{"filter":"datum.k=='RYGB donor'"}],"mark":{"type":"line","strokeWidth":3.5}},{"transform":[{"filter":"datum.k=='SHAMr'"}],"mark":{"type":"line","strokeWidth":3,"point":{"filled":true,"size":55}}},{"transform":[{"filter":"datum.k=='SHAM donor'"}],"mark":{"type":"line","strokeWidth":3.5}},{"transform":[{"filter":"datum.k=='E'"}],"mark":{"type":"errorbar","thickness":1,"ticks":{"size":7,"thickness":1}},"encoding":{"y2":{"field":"v2"},"color":{"value":"#7F7F7F"}}},{"transform":[{"filter":"datum.k=='X'"}],"mark":{"type":"text","text":"*","font":"DejaVu Sans","fontSize":20,"baseline":"alphabetic","dy":12},"encoding":{"color":{"value":"#000000"},"strokeDash":{"value":[1,0]}}}]},
{"width":210,"height":111,"transform":[{"filter":"datum.a=='ASV5'"}],"encoding":{"x":{"field":"t","type":"ordinal","scale":{"type":"point","domain":["D-1","D0","D1","D3","D6","D9","D16"],"padding":0},"axis":{"title":null}},"y":{"field":"v","type":"quantitative","scale":{"domain":[0,10],"nice":false,"zero":false},"axis":{"values":[0,2,4,6,8,10],"title":"ASV5_Alistipes","titleX":105,"titleY":-18}},"color":{"field":"k","type":"nominal","scale":{"domain":["RYGBr","RYGB donor","SHAMr","SHAM donor"],"range":["#E2671B","#FF40FF","#1F3E96","#4E8030"]},"legend":{"title":null,"orient":"none","legendX":1174,"legendY":572,"symbolType":"stroke","clipHeight":16}},"strokeDash":{"field":"k","type":"nominal","scale":{"domain":["RYGBr","RYGB donor","SHAMr","SHAM donor"],"range":[[1,0],[11,6],[1,0],[9,5]]},"legend":{"title":null,"orient":"none","legendX":1174,"legendY":572,"symbolType":"stroke","clipHeight":16}}},"layer":[{"transform":[{"filter":"datum.k=='RYGBr'"}],"mark":{"type":"line","strokeWidth":3,"point":{"filled":true,"size":55}}},{"transform":[{"filter":"datum.k=='RYGB donor'"}],"mark":{"type":"line","strokeWidth":3.5}},{"transform":[{"filter":"datum.k=='SHAMr'"}],"mark":{"type":"line","strokeWidth":3,"point":{"filled":true,"size":55}}},{"transform":[{"filter":"datum.k=='SHAM donor'"}],"mark":{"type":"line","strokeWidth":3.5}},{"transform":[{"filter":"datum.k=='E'"}],"mark":{"type":"errorbar","thickness":1,"ticks":{"size":7,"thickness":1}},"encoding":{"y2":{"field":"v2"},"color":{"value":"#7F7F7F"}}},{"transform":[{"filter":"datum.k=='X'"}],"mark":{"type":"text","text":"*","font":"DejaVu Sans","fontSize":20,"baseline":"alphabetic","dy":12},"encoding":{"color":{"value":"#000000"},"strokeDash":{"value":[1,0]}}}]},
{"width":191,"height":111,"transform":[{"filter":"datum.a=='ASV6'"}],"encoding":{"x":{"field":"t","type":"ordinal","scale":{"type":"point","domain":["D-1","D0","D1","D3","D6","D9","D16"],"padding":0},"axis":{"title":null}},"y":{"field":"v","type":"quantitative","scale":{"domain":[0,6],"nice":false,"zero":false},"axis":{"values":[0,1,2,3,4,5,6],"title":"ASV6_Bacteroides","titleX":95.5,"titleY":-17}},"color":{"field":"k","type":"nominal","scale":{"domain":["RYGBr","RYGB donor","SHAMr","SHAM donor"],"range":["#E2671B","#FF40FF","#1F3E96","#4E8030"]},"legend":{"title":null,"orient":"none","legendX":1174,"legendY":572,"symbolType":"stroke","clipHeight":16}},"strokeDash":{"field":"k","type":"nominal","scale":{"domain":["RYGBr","RYGB donor","SHAMr","SHAM donor"],"range":[[1,0],[11,6],[1,0],[9,5]]},"legend":{"title":null,"orient":"none","legendX":1174,"legendY":572,"symbolType":"stroke","clipHeight":16}}},"layer":[{"transform":[{"filter":"datum.k=='RYGBr'"}],"mark":{"type":"line","strokeWidth":3,"point":{"filled":true,"size":55}}},{"transform":[{"filter":"datum.k=='RYGB donor'"}],"mark":{"type":"line","strokeWidth":3.5}},{"transform":[{"filter":"datum.k=='SHAMr'"}],"mark":{"type":"line","strokeWidth":3,"point":{"filled":true,"size":55}}},{"transform":[{"filter":"datum.k=='SHAM donor'"}],"mark":{"type":"line","strokeWidth":3.5}},{"transform":[{"filter":"datum.k=='E'"}],"mark":{"type":"errorbar","thickness":1,"ticks":{"size":7,"thickness":1}},"encoding":{"y2":{"field":"v2"},"color":{"value":"#7F7F7F"}}},{"transform":[{"filter":"datum.k=='X'"}],"mark":{"type":"text","text":"*","font":"DejaVu Sans","fontSize":20,"baseline":"alphabetic","dy":12},"encoding":{"color":{"value":"#000000"},"strokeDash":{"value":[1,0]}}}]},
{"width":194,"height":111,"transform":[{"filter":"datum.a=='ASV7'"}],"encoding":{"x":{"field":"t","type":"ordinal","scale":{"type":"point","domain":["D-1","D0","D1","D3","D6","D9","D16"],"padding":0},"axis":{"title":null}},"y":{"field":"v","type":"quantitative","scale":{"domain":[-2,6],"nice":false,"zero":false},"axis":{"values":[-2,0,2,4,6],"title":"ASV7_Allobaculum","titleX":97,"titleY":-17}},"color":{"field":"k","type":"nominal","scale":{"domain":["RYGBr","RYGB donor","SHAMr","SHAM donor"],"range":["#E2671B","#FF40FF","#1F3E96","#4E8030"]},"legend":{"title":null,"orient":"none","legendX":1174,"legendY":572,"symbolType":"stroke","clipHeight":16}},"strokeDash":{"field":"k","type":"nominal","scale":{"domain":["RYGBr","RYGB donor","SHAMr","SHAM donor"],"range":[[1,0],[11,6],[1,0],[9,5]]},"legend":{"title":null,"orient":"none","legendX":1174,"legendY":572,"symbolType":"stroke","clipHeight":16}}},"layer":[{"transform":[{"filter":"datum.k=='RYGBr'"}],"mark":{"type":"line","strokeWidth":3,"point":{"filled":true,"size":55}}},{"transform":[{"filter":"datum.k=='RYGB donor'"}],"mark":{"type":"line","strokeWidth":3.5}},{"transform":[{"filter":"datum.k=='SHAMr'"}],"mark":{"type":"line","strokeWidth":3,"point":{"filled":true,"size":55}}},{"transform":[{"filter":"datum.k=='SHAM donor'"}],"mark":{"type":"line","strokeWidth":3.5}},{"transform":[{"filter":"datum.k=='E'"}],"mark":{"type":"errorbar","thickness":1,"ticks":{"size":7,"thickness":1}},"encoding":{"y2":{"field":"v2"},"color":{"value":"#7F7F7F"}}},{"transform":[{"filter":"datum.k=='X'"}],"mark":{"type":"text","text":"*","font":"DejaVu Sans","fontSize":20,"baseline":"alphabetic","dy":12},"encoding":{"color":{"value":"#000000"},"strokeDash":{"value":[1,0]}}}]},
{"width":189,"height":111,"transform":[{"filter":"datum.a=='ASV8'"}],"encoding":{"x":{"field":"t","type":"ordinal","scale":{"type":"point","domain":["D-1","D0","D1","D3","D6","D9","D16"],"padding":0},"axis":{"title":null}},"y":{"field":"v","type":"quantitative","scale":{"domain":[-2,8],"nice":false,"zero":false},"axis":{"values":[-2,0,2,4,6,8],"title":"ASV8_Parasutterella","titleX":94.5,"titleY":-17}},"color":{"field":"k","type":"nominal","scale":{"domain":["RYGBr","RYGB donor","SHAMr","SHAM donor"],"range":["#E2671B","#FF40FF","#1F3E96","#4E8030"]},"legend":{"title":null,"orient":"none","legendX":1174,"legendY":572,"symbolType":"stroke","clipHeight":16}},"strokeDash":{"field":"k","type":"nominal","scale":{"domain":["RYGBr","RYGB donor","SHAMr","SHAM donor"],"range":[[1,0],[11,6],[1,0],[9,5]]},"legend":{"title":null,"orient":"none","legendX":1174,"legendY":572,"symbolType":"stroke","clipHeight":16}}},"layer":[{"transform":[{"filter":"datum.k=='RYGBr'"}],"mark":{"type":"line","strokeWidth":3,"point":{"filled":true,"size":55}}},{"transform":[{"filter":"datum.k=='RYGB donor'"}],"mark":{"type":"line","strokeWidth":3.5}},{"transform":[{"filter":"datum.k=='SHAMr'"}],"mark":{"type":"line","strokeWidth":3,"point":{"filled":true,"size":55}}},{"transform":[{"filter":"datum.k=='SHAM donor'"}],"mark":{"type":"line","strokeWidth":3.5}},{"transform":[{"filter":"datum.k=='E'"}],"mark":{"type":"errorbar","thickness":1,"ticks":{"size":7,"thickness":1}},"encoding":{"y2":{"field":"v2"},"color":{"value":"#7F7F7F"}}},{"transform":[{"filter":"datum.k=='X'"}],"mark":{"type":"text","text":"*","font":"DejaVu Sans","fontSize":20,"baseline":"alphabetic","dy":12},"encoding":{"color":{"value":"#000000"},"strokeDash":{"value":[1,0]}}}]},
{"width":188,"height":111,"transform":[{"filter":"datum.a=='ASV9'"}],"encoding":{"x":{"field":"t","type":"ordinal","scale":{"type":"point","domain":["D-1","D0","D1","D3","D6","D9","D16"],"padding":0},"axis":{"title":null}},"y":{"field":"v","type":"quantitative","scale":{"domain":[-2,6],"nice":false,"zero":false},"axis":{"values":[-2,0,2,4,6],"title":"ASV9_Alistipes","titleX":94,"titleY":-17}},"color":{"field":"k","type":"nominal","scale":{"domain":["RYGBr","RYGB donor","SHAMr","SHAM donor"],"range":["#E2671B","#FF40FF","#1F3E96","#4E8030"]},"legend":{"title":null,"orient":"none","legendX":1174,"legendY":572,"symbolType":"stroke","clipHeight":16}},"strokeDash":{"field":"k","type":"nominal","scale":{"domain":["RYGBr","RYGB donor","SHAMr","SHAM donor"],"range":[[1,0],[11,6],[1,0],[9,5]]},"legend":{"title":null,"orient":"none","legendX":1174,"legendY":572,"symbolType":"stroke","clipHeight":16}}},"layer":[{"transform":[{"filter":"datum.k=='RYGBr'"}],"mark":{"type":"line","strokeWidth":3,"point":{"filled":true,"size":55}}},{"transform":[{"filter":"datum.k=='RYGB donor'"}],"mark":{"type":"line","strokeWidth":3.5}},{"transform":[{"filter":"datum.k=='SHAMr'"}],"mark":{"type":"line","strokeWidth":3,"point":{"filled":true,"size":55}}},{"transform":[{"filter":"datum.k=='SHAM donor'"}],"mark":{"type":"line","strokeWidth":3.5}},{"transform":[{"filter":"datum.k=='E'"}],"mark":{"type":"errorbar","thickness":1,"ticks":{"size":7,"thickness":1}},"encoding":{"y2":{"field":"v2"},"color":{"value":"#7F7F7F"}}},{"transform":[{"filter":"datum.k=='X'"}],"mark":{"type":"text","text":"*","font":"DejaVu Sans","fontSize":20,"baseline":"alphabetic","dy":12},"encoding":{"color":{"value":"#000000"},"strokeDash":{"value":[1,0]}}}]},
{"width":210,"height":111,"transform":[{"filter":"datum.a=='ASV10'"}],"encoding":{"x":{"field":"t","type":"ordinal","scale":{"type":"point","domain":["D-1","D0","D1","D3","D6","D9","D16"],"padding":0},"axis":{"title":null}},"y":{"field":"v","type":"quantitative","scale":{"domain":[-2,6],"nice":false,"zero":false},"axis":{"values":[-2,0,2,4,6],"title":"ASV10_Bilophila","titleX":105,"titleY":-17}},"color":{"field":"k","type":"nominal","scale":{"domain":["RYGBr","RYGB donor","SHAMr","SHAM donor"],"range":["#E2671B","#FF40FF","#1F3E96","#4E8030"]},"legend":{"title":null,"orient":"none","legendX":1174,"legendY":572,"symbolType":"stroke","clipHeight":16}},"strokeDash":{"field":"k","type":"nominal","scale":{"domain":["RYGBr","RYGB donor","SHAMr","SHAM donor"],"range":[[1,0],[11,6],[1,0],[9,5]]},"legend":{"title":null,"orient":"none","legendX":1174,"legendY":572,"symbolType":"stroke","clipHeight":16}}},"layer":[{"transform":[{"filter":"datum.k=='RYGBr'"}],"mark":{"type":"line","strokeWidth":3,"point":{"filled":true,"size":55}}},{"transform":[{"filter":"datum.k=='RYGB donor'"}],"mark":{"type":"line","strokeWidth":3.5}},{"transform":[{"filter":"datum.k=='SHAMr'"}],"mark":{"type":"line","strokeWidth":3,"point":{"filled":true,"size":55}}},{"transform":[{"filter":"datum.k=='SHAM donor'"}],"mark":{"type":"line","strokeWidth":3.5}},{"transform":[{"filter":"datum.k=='E'"}],"mark":{"type":"errorbar","thickness":1,"ticks":{"size":7,"thickness":1}},"encoding":{"y2":{"field":"v2"},"color":{"value":"#7F7F7F"}}},{"transform":[{"filter":"datum.k=='X'"}],"mark":{"type":"text","text":"*","font":"DejaVu Sans","fontSize":20,"baseline":"alphabetic","dy":12},"encoding":{"color":{"value":"#000000"},"strokeDash":{"value":[1,0]}}}]},
{"width":191,"height":111,"title":{"text":"ln (median)","orient":"left","anchor":"middle","frame":"group","offset":7,"dx":122,"fontSize":18,"fontWeight":"normal","font":"Lato","color":"#000000"},"transform":[{"filter":"datum.a=='ASV11'"}],"encoding":{"x":{"field":"t","type":"ordinal","scale":{"type":"point","domain":["D-1","D0","D1","D3","D6","D9","D16"],"padding":0},"axis":{"title":null}},"y":{"field":"v","type":"quantitative","scale":{"domain":[0,6],"nice":false,"zero":false},"axis":{"values":[0,1,2,3,4,5,6],"title":["ASV11_Unclassified_","Lachnospiraceae"],"titleX":95.5,"titleY":-25}},"color":{"field":"k","type":"nominal","scale":{"domain":["RYGBr","RYGB donor","SHAMr","SHAM donor"],"range":["#E2671B","#FF40FF","#1F3E96","#4E8030"]},"legend":{"title":null,"orient":"none","legendX":1174,"legendY":572,"symbolType":"stroke","clipHeight":16}},"strokeDash":{"field":"k","type":"nominal","scale":{"domain":["RYGBr","RYGB donor","SHAMr","SHAM donor"],"range":[[1,0],[11,6],[1,0],[9,5]]},"legend":{"title":null,"orient":"none","legendX":1174,"legendY":572,"symbolType":"stroke","clipHeight":16}}},"layer":[{"transform":[{"filter":"datum.k=='RYGBr'"}],"mark":{"type":"line","strokeWidth":3,"point":{"filled":true,"size":55}}},{"transform":[{"filter":"datum.k=='RYGB donor'"}],"mark":{"type":"line","strokeWidth":3.5}},{"transform":[{"filter":"datum.k=='SHAMr'"}],"mark":{"type":"line","strokeWidth":3,"point":{"filled":true,"size":55}}},{"transform":[{"filter":"datum.k=='SHAM donor'"}],"mark":{"type":"line","strokeWidth":3.5}},{"transform":[{"filter":"datum.k=='E'"}],"mark":{"type":"errorbar","thickness":1,"ticks":{"size":7,"thickness":1}},"encoding":{"y2":{"field":"v2"},"color":{"value":"#7F7F7F"}}},{"transform":[{"filter":"datum.k=='X'"}],"mark":{"type":"text","text":"*","font":"DejaVu Sans","fontSize":20,"baseline":"alphabetic","dy":12},"encoding":{"color":{"value":"#000000"},"strokeDash":{"value":[1,0]}}}]},
{"width":194,"height":111,"transform":[{"filter":"datum.a=='ASV12'"}],"encoding":{"x":{"field":"t","type":"ordinal","scale":{"type":"point","domain":["D-1","D0","D1","D3","D6","D9","D16"],"padding":0},"axis":{"title":null}},"y":{"field":"v","type":"quantitative","scale":{"domain":[-2,8],"nice":false,"zero":false},"axis":{"values":[-2,0,2,4,6,8],"title":["ASV12_Ruminococcaceae","_NK4A214"],"titleX":97,"titleY":-26}},"color":{"field":"k","type":"nominal","scale":{"domain":["RYGBr","RYGB donor","SHAMr","SHAM donor"],"range":["#E2671B","#FF40FF","#1F3E96","#4E8030"]},"legend":{"title":null,"orient":"none","legendX":1174,"legendY":572,"symbolType":"stroke","clipHeight":16}},"strokeDash":{"field":"k","type":"nominal","scale":{"domain":["RYGBr","RYGB donor","SHAMr","SHAM donor"],"range":[[1,0],[11,6],[1,0],[9,5]]},"legend":{"title":null,"orient":"none","legendX":1174,"legendY":572,"symbolType":"stroke","clipHeight":16}}},"layer":[{"transform":[{"filter":"datum.k=='RYGBr'"}],"mark":{"type":"line","strokeWidth":3,"point":{"filled":true,"size":55}}},{"transform":[{"filter":"datum.k=='RYGB donor'"}],"mark":{"type":"line","strokeWidth":3.5}},{"transform":[{"filter":"datum.k=='SHAMr'"}],"mark":{"type":"line","strokeWidth":3,"point":{"filled":true,"size":55}}},{"transform":[{"filter":"datum.k=='SHAM donor'"}],"mark":{"type":"line","strokeWidth":3.5}},{"transform":[{"filter":"datum.k=='E'"}],"mark":{"type":"errorbar","thickness":1,"ticks":{"size":7,"thickness":1}},"encoding":{"y2":{"field":"v2"},"color":{"value":"#7F7F7F"}}},{"transform":[{"filter":"datum.k=='X'"}],"mark":{"type":"text","text":"*","font":"DejaVu Sans","fontSize":20,"baseline":"alphabetic","dy":12},"encoding":{"color":{"value":"#000000"},"strokeDash":{"value":[1,0]}}}]},
{"width":189,"height":111,"transform":[{"filter":"datum.a=='ASV13'"}],"encoding":{"x":{"field":"t","type":"ordinal","scale":{"type":"point","domain":["D-1","D0","D1","D3","D6","D9","D16"],"padding":0},"axis":{"title":null}},"y":{"field":"v","type":"quantitative","scale":{"domain":[-2,8],"nice":false,"zero":false},"axis":{"values":[-2,0,2,4,6,8],"title":"ASV13_Ruminococcus","titleX":94.5,"titleY":-23}},"color":{"field":"k","type":"nominal","scale":{"domain":["RYGBr","RYGB donor","SHAMr","SHAM donor"],"range":["#E2671B","#FF40FF","#1F3E96","#4E8030"]},"legend":{"title":null,"orient":"none","legendX":1174,"legendY":572,"symbolType":"stroke","clipHeight":16}},"strokeDash":{"field":"k","type":"nominal","scale":{"domain":["RYGBr","RYGB donor","SHAMr","SHAM donor"],"range":[[1,0],[11,6],[1,0],[9,5]]},"legend":{"title":null,"orient":"none","legendX":1174,"legendY":572,"symbolType":"stroke","clipHeight":16}}},"layer":[{"transform":[{"filter":"datum.k=='RYGBr'"}],"mark":{"type":"line","strokeWidth":3,"point":{"filled":true,"size":55}}},{"transform":[{"filter":"datum.k=='RYGB donor'"}],"mark":{"type":"line","strokeWidth":3.5}},{"transform":[{"filter":"datum.k=='SHAMr'"}],"mark":{"type":"line","strokeWidth":3,"point":{"filled":true,"size":55}}},{"transform":[{"filter":"datum.k=='SHAM donor'"}],"mark":{"type":"line","strokeWidth":3.5}},{"transform":[{"filter":"datum.k=='E'"}],"mark":{"type":"errorbar","thickness":1,"ticks":{"size":7,"thickness":1}},"encoding":{"y2":{"field":"v2"},"color":{"value":"#7F7F7F"}}},{"transform":[{"filter":"datum.k=='X'"}],"mark":{"type":"text","text":"*","font":"DejaVu Sans","fontSize":20,"baseline":"alphabetic","dy":12},"encoding":{"color":{"value":"#000000"},"strokeDash":{"value":[1,0]}}}]},
{"width":188,"height":111,"transform":[{"filter":"datum.a=='ASV14'"}],"encoding":{"x":{"field":"t","type":"ordinal","scale":{"type":"point","domain":["D-1","D0","D1","D3","D6","D9","D16"],"padding":0},"axis":{"title":null}},"y":{"field":"v","type":"quantitative","scale":{"domain":[0,7],"nice":false,"zero":false},"axis":{"values":[0,2,4,6],"title":["ASV14_Unclassified_","Ruminococcaceae"],"titleX":94,"titleY":-21}},"color":{"field":"k","type":"nominal","scale":{"domain":["RYGBr","RYGB donor","SHAMr","SHAM donor"],"range":["#E2671B","#FF40FF","#1F3E96","#4E8030"]},"legend":{"title":null,"orient":"none","legendX":1174,"legendY":572,"symbolType":"stroke","clipHeight":16}},"strokeDash":{"field":"k","type":"nominal","scale":{"domain":["RYGBr","RYGB donor","SHAMr","SHAM donor"],"range":[[1,0],[11,6],[1,0],[9,5]]},"legend":{"title":null,"orient":"none","legendX":1174,"legendY":572,"symbolType":"stroke","clipHeight":16}}},"layer":[{"transform":[{"filter":"datum.k=='RYGBr'"}],"mark":{"type":"line","strokeWidth":3,"point":{"filled":true,"size":55}}},{"transform":[{"filter":"datum.k=='RYGB donor'"}],"mark":{"type":"line","strokeWidth":3.5}},{"transform":[{"filter":"datum.k=='SHAMr'"}],"mark":{"type":"line","strokeWidth":3,"point":{"filled":true,"size":55}}},{"transform":[{"filter":"datum.k=='SHAM donor'"}],"mark":{"type":"line","strokeWidth":3.5}},{"transform":[{"filter":"datum.k=='E'"}],"mark":{"type":"errorbar","thickness":1,"ticks":{"size":7,"thickness":1}},"encoding":{"y2":{"field":"v2"},"color":{"value":"#7F7F7F"}}},{"transform":[{"filter":"datum.k=='X'"}],"mark":{"type":"text","text":"*","font":"DejaVu Sans","fontSize":20,"baseline":"alphabetic","dy":12},"encoding":{"color":{"value":"#000000"},"strokeDash":{"value":[1,0]}}}]},
{"width":210,"height":111,"transform":[{"filter":"datum.a=='ASV15'"}],"encoding":{"x":{"field":"t","type":"ordinal","scale":{"type":"point","domain":["D-1","D0","D1","D3","D6","D9","D16"],"padding":0},"axis":{"title":null}},"y":{"field":"v","type":"quantitative","scale":{"domain":[-1,5],"nice":false,"zero":false},"axis":{"values":[-1,0,1,2,3,4,5],"title":"ASV15_Lactobacillus","titleX":105,"titleY":-22}},"color":{"field":"k","type":"nominal","scale":{"domain":["RYGBr","RYGB donor","SHAMr","SHAM donor"],"range":["#E2671B","#FF40FF","#1F3E96","#4E8030"]},"legend":{"title":null,"orient":"none","legendX":1174,"legendY":572,"symbolType":"stroke","clipHeight":16}},"strokeDash":{"field":"k","type":"nominal","scale":{"domain":["RYGBr","RYGB donor","SHAMr","SHAM donor"],"range":[[1,0],[11,6],[1,0],[9,5]]},"legend":{"title":null,"orient":"none","legendX":1174,"legendY":572,"symbolType":"stroke","clipHeight":16}}},"layer":[{"transform":[{"filter":"datum.k=='RYGBr'"}],"mark":{"type":"line","strokeWidth":3,"point":{"filled":true,"size":55}}},{"transform":[{"filter":"datum.k=='RYGB donor'"}],"mark":{"type":"line","strokeWidth":3.5}},{"transform":[{"filter":"datum.k=='SHAMr'"}],"mark":{"type":"line","strokeWidth":3,"point":{"filled":true,"size":55}}},{"transform":[{"filter":"datum.k=='SHAM donor'"}],"mark":{"type":"line","strokeWidth":3.5}},{"transform":[{"filter":"datum.k=='E'"}],"mark":{"type":"errorbar","thickness":1,"ticks":{"size":7,"thickness":1}},"encoding":{"y2":{"field":"v2"},"color":{"value":"#7F7F7F"}}},{"transform":[{"filter":"datum.k=='X'"}],"mark":{"type":"text","text":"*","font":"DejaVu Sans","fontSize":20,"baseline":"alphabetic","dy":12},"encoding":{"color":{"value":"#000000"},"strokeDash":{"value":[1,0]}}}]},
{"width":191,"height":111,"transform":[{"filter":"datum.a=='ASV16'"}],"encoding":{"x":{"field":"t","type":"ordinal","scale":{"type":"point","domain":["D-1","D0","D1","D3","D6","D9","D16"],"padding":0},"axis":{"title":null}},"y":{"field":"v","type":"quantitative","scale":{"domain":[-2,8],"nice":false,"zero":false},"axis":{"values":[-2,0,2,4,6,8],"title":"ASV16_Lactobacillus","titleX":95.5,"titleY":-22}},"color":{"field":"k","type":"nominal","scale":{"domain":["RYGBr","RYGB donor","SHAMr","SHAM donor"],"range":["#E2671B","#FF40FF","#1F3E96","#4E8030"]},"legend":{"title":null,"orient":"none","legendX":1174,"legendY":572,"symbolType":"stroke","clipHeight":16}},"strokeDash":{"field":"k","type":"nominal","scale":{"domain":["RYGBr","RYGB donor","SHAMr","SHAM donor"],"range":[[1,0],[11,6],[1,0],[9,5]]},"legend":{"title":null,"orient":"none","legendX":1174,"legendY":572,"symbolType":"stroke","clipHeight":16}}},"layer":[{"transform":[{"filter":"datum.k=='RYGBr'"}],"mark":{"type":"line","strokeWidth":3,"point":{"filled":true,"size":55}}},{"transform":[{"filter":"datum.k=='RYGB donor'"}],"mark":{"type":"line","strokeWidth":3.5}},{"transform":[{"filter":"datum.k=='SHAMr'"}],"mark":{"type":"line","strokeWidth":3,"point":{"filled":true,"size":55}}},{"transform":[{"filter":"datum.k=='SHAM donor'"}],"mark":{"type":"line","strokeWidth":3.5}},{"transform":[{"filter":"datum.k=='E'"}],"mark":{"type":"errorbar","thickness":1,"ticks":{"size":7,"thickness":1}},"encoding":{"y2":{"field":"v2"},"color":{"value":"#7F7F7F"}}},{"transform":[{"filter":"datum.k=='X'"}],"mark":{"type":"text","text":"*","font":"DejaVu Sans","fontSize":20,"baseline":"alphabetic","dy":12},"encoding":{"color":{"value":"#000000"},"strokeDash":{"value":[1,0]}}}]},
{"width":194,"height":111,"transform":[{"filter":"datum.a=='ASV17'"}],"encoding":{"x":{"field":"t","type":"ordinal","scale":{"type":"point","domain":["D-1","D0","D1","D3","D6","D9","D16"],"padding":0},"axis":{"title":null}},"y":{"field":"v","type":"quantitative","scale":{"domain":[-2,6],"nice":false,"zero":false},"axis":{"values":[-2,0,2,4,6],"title":"ASV17_Parabacteroides","titleX":97,"titleY":-25}},"color":{"field":"k","type":"nominal","scale":{"domain":["RYGBr","RYGB donor","SHAMr","SHAM donor"],"range":["#E2671B","#FF40FF","#1F3E96","#4E8030"]},"legend":{"title":null,"orient":"none","legendX":1174,"legendY":572,"symbolType":"stroke","clipHeight":16}},"strokeDash":{"field":"k","type":"nominal","scale":{"domain":["RYGBr","RYGB donor","SHAMr","SHAM donor"],"range":[[1,0],[11,6],[1,0],[9,5]]},"legend":{"title":null,"orient":"none","legendX":1174,"legendY":572,"symbolType":"stroke","clipHeight":16}}},"layer":[{"transform":[{"filter":"datum.k=='RYGBr'"}],"mark":{"type":"line","strokeWidth":3,"point":{"filled":true,"size":55}}},{"transform":[{"filter":"datum.k=='RYGB donor'"}],"mark":{"type":"line","strokeWidth":3.5}},{"transform":[{"filter":"datum.k=='SHAMr'"}],"mark":{"type":"line","strokeWidth":3,"point":{"filled":true,"size":55}}},{"transform":[{"filter":"datum.k=='SHAM donor'"}],"mark":{"type":"line","strokeWidth":3.5}},{"transform":[{"filter":"datum.k=='E'"}],"mark":{"type":"errorbar","thickness":1,"ticks":{"size":7,"thickness":1}},"encoding":{"y2":{"field":"v2"},"color":{"value":"#7F7F7F"}}},{"transform":[{"filter":"datum.k=='X'"}],"mark":{"type":"text","text":"*","font":"DejaVu Sans","fontSize":20,"baseline":"alphabetic","dy":12},"encoding":{"color":{"value":"#000000"},"strokeDash":{"value":[1,0]}}}]},
{"width":189,"height":111,"transform":[{"filter":"datum.a=='ASV18'"}],"encoding":{"x":{"field":"t","type":"ordinal","scale":{"type":"point","domain":["D-1","D0","D1","D3","D6","D9","D16"],"padding":0},"axis":{"title":"Time Point","titlePadding":6}},"y":{"field":"v","type":"quantitative","scale":{"domain":[-2,8],"nice":false,"zero":false},"axis":{"values":[-2,0,2,4,6,8],"title":["ASV18_Ruminococcaceae","_UCG-014"],"titleX":94.5,"titleY":-22}},"color":{"field":"k","type":"nominal","scale":{"domain":["RYGBr","RYGB donor","SHAMr","SHAM donor"],"range":["#E2671B","#FF40FF","#1F3E96","#4E8030"]},"legend":{"title":null,"orient":"none","legendX":1174,"legendY":572,"symbolType":"stroke","clipHeight":16}},"strokeDash":{"field":"k","type":"nominal","scale":{"domain":["RYGBr","RYGB donor","SHAMr","SHAM donor"],"range":[[1,0],[11,6],[1,0],[9,5]]},"legend":{"title":null,"orient":"none","legendX":1174,"legendY":572,"symbolType":"stroke","clipHeight":16}}},"layer":[{"transform":[{"filter":"datum.k=='RYGBr'"}],"mark":{"type":"line","strokeWidth":3,"point":{"filled":true,"size":55}}},{"transform":[{"filter":"datum.k=='RYGB donor'"}],"mark":{"type":"line","strokeWidth":3.5}},{"transform":[{"filter":"datum.k=='SHAMr'"}],"mark":{"type":"line","strokeWidth":3,"point":{"filled":true,"size":55}}},{"transform":[{"filter":"datum.k=='SHAM donor'"}],"mark":{"type":"line","strokeWidth":3.5}},{"transform":[{"filter":"datum.k=='E'"}],"mark":{"type":"errorbar","thickness":1,"ticks":{"size":7,"thickness":1}},"encoding":{"y2":{"field":"v2"},"color":{"value":"#7F7F7F"}}},{"transform":[{"filter":"datum.k=='X'"}],"mark":{"type":"text","text":"*","font":"DejaVu Sans","fontSize":20,"baseline":"alphabetic","dy":12},"encoding":{"color":{"value":"#000000"},"strokeDash":{"value":[1,0]}}}]},
{"width":188,"height":111,"transform":[{"filter":"datum.a=='ASV19'"}],"encoding":{"x":{"field":"t","type":"ordinal","scale":{"type":"point","domain":["D-1","D0","D1","D3","D6","D9","D16"],"padding":0},"axis":{"title":null}},"y":{"field":"v","type":"quantitative","scale":{"domain":[-1,5],"nice":false,"zero":false},"axis":{"values":[-1,0,1,2,3,4,5],"title":"ASV19_Ruminiclostridium","titleX":94,"titleY":-25}},"color":{"field":"k","type":"nominal","scale":{"domain":["RYGBr","RYGB donor","SHAMr","SHAM donor"],"range":["#E2671B","#FF40FF","#1F3E96","#4E8030"]},"legend":{"title":null,"orient":"none","legendX":1174,"legendY":572,"symbolType":"stroke","clipHeight":16}},"strokeDash":{"field":"k","type":"nominal","scale":{"domain":["RYGBr","RYGB donor","SHAMr","SHAM donor"],"range":[[1,0],[11,6],[1,0],[9,5]]},"legend":{"title":null,"orient":"none","legendX":1174,"legendY":572,"symbolType":"stroke","clipHeight":16}}},"layer":[{"transform":[{"filter":"datum.k=='RYGBr'"}],"mark":{"type":"line","strokeWidth":3,"point":{"filled":true,"size":55}}},{"transform":[{"filter":"datum.k=='RYGB donor'"}],"mark":{"type":"line","strokeWidth":3.5}},{"transform":[{"filter":"datum.k=='SHAMr'"}],"mark":{"type":"line","strokeWidth":3,"point":{"filled":true,"size":55}}},{"transform":[{"filter":"datum.k=='SHAM donor'"}],"mark":{"type":"line","strokeWidth":3.5}},{"transform":[{"filter":"datum.k=='E'"}],"mark":{"type":"errorbar","thickness":1,"ticks":{"size":7,"thickness":1}},"encoding":{"y2":{"field":"v2"},"color":{"value":"#7F7F7F"}}},{"transform":[{"filter":"datum.k=='X'"}],"mark":{"type":"text","text":"*","font":"DejaVu Sans","fontSize":20,"baseline":"alphabetic","dy":12},"encoding":{"color":{"value":"#000000"},"strokeDash":{"value":[1,0]}}}]},
{"width":210,"height":111,"transform":[{"filter":"datum.a=='ASV20'"}],"encoding":{"x":{"field":"t","type":"ordinal","scale":{"type":"point","domain":["D-1","D0","D1","D3","D6","D9","D16"],"padding":0},"axis":{"title":null}},"y":{"field":"v","type":"quantitative","scale":{"domain":[-2,8],"nice":false,"zero":false},"axis":{"values":[-2,0,2,4,6,8],"title":["ASV20_Lachnospiraceae","_NK4A136"],"titleX":105,"titleY":-25}},"color":{"field":"k","type":"nominal","scale":{"domain":["RYGBr","RYGB donor","SHAMr","SHAM donor"],"range":["#E2671B","#FF40FF","#1F3E96","#4E8030"]},"legend":{"title":null,"orient":"none","legendX":1174,"legendY":572,"symbolType":"stroke","clipHeight":16}},"strokeDash":{"field":"k","type":"nominal","scale":{"domain":["RYGBr","RYGB donor","SHAMr","SHAM donor"],"range":[[1,0],[11,6],[1,0],[9,5]]},"legend":{"title":null,"orient":"none","legendX":1174,"legendY":572,"symbolType":"stroke","clipHeight":16}}},"layer":[{"transform":[{"filter":"datum.k=='RYGBr'"}],"mark":{"type":"line","strokeWidth":3,"point":{"filled":true,"size":55}}},{"transform":[{"filter":"datum.k=='RYGB donor'"}],"mark":{"type":"line","strokeWidth":3.5}},{"transform":[{"filter":"datum.k=='SHAMr'"}],"mark":{"type":"line","strokeWidth":3,"point":{"filled":true,"size":55}}},{"transform":[{"filter":"datum.k=='SHAM donor'"}],"mark":{"type":"line","strokeWidth":3.5}},{"transform":[{"filter":"datum.k=='E'"}],"mark":{"type":"errorbar","thickness":1,"ticks":{"size":7,"thickness":1}},"encoding":{"y2":{"field":"v2"},"color":{"value":"#7F7F7F"}}},{"transform":[{"filter":"datum.k=='X'"}],"mark":{"type":"text","text":"*","font":"DejaVu Sans","fontSize":20,"baseline":"alphabetic","dy":12},"encoding":{"color":{"value":"#000000"},"strokeDash":{"value":[1,0]}}}]}
],
"config":{"view":{"stroke":null},"font":"Lato",
"axis":{"grid":false,"domainColor":"#000000","tickColor":"#000000","domainWidth":1.2,"tickWidth":1.2,"labelColor":"#595959","labelFontSize":13,"labelFont":"Lato"},
"axisX":{"labelAngle":0,"tickSize":-4,"labelPadding":14,"titleFont":"Lato","titleFontSize":17,"titleFontWeight":"normal","titleColor":"#000000","titlePadding":6},
"axisY":{"tickSize":4,"labelPadding":9,"titleAngle":0,"titleAlign":"center","titleBaseline":"top","titleFont":"Lato","titleFontSize":14,"titleFontWeight":"bold","titleFontStyle":"italic","titleColor":"#000000","titleLineHeight":18},
"legend":{"symbolSize":1444,"symbolStrokeWidth":3,"rowPadding":0,"labelFontSize":12.5,"labelColor":"#404040","labelFont":"Lato","labelOffset":3}}
}
